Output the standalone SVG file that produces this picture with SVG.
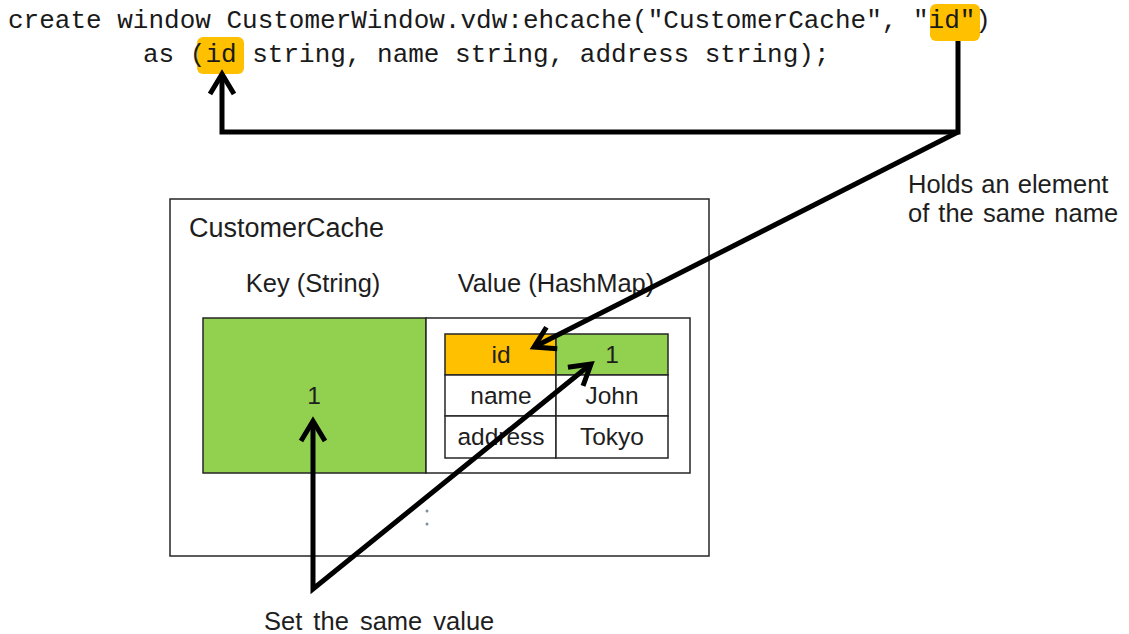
<svg xmlns="http://www.w3.org/2000/svg" width="1129" height="634" viewBox="0 0 1129 634">
  <style>
    .code { font-family: "Liberation Mono", "Courier New", monospace; font-size: 26px; fill: #1a1a1a; }
    .lbl { font-family: "Liberation Sans", Arial, sans-serif; fill: #1e1e1e; }
    .mid { text-anchor: middle; }
    .box { stroke: #262626; stroke-width: 1.5; }
    .hl { fill: #FFC000; }
    .green { fill: #92D050; }
    .white { fill: #ffffff; }
    .wire { fill: none; stroke: #000; stroke-width: 5; stroke-linejoin: miter; }
  </style>
  <defs>
    <marker id="chev" markerUnits="userSpaceOnUse" viewBox="-26 -16 32 32" markerWidth="32" markerHeight="32" refX="0" refY="0" orient="auto-start-reverse">
      <path d="M-20,-12 L0,0 L-20,12" fill="none" stroke="#000" stroke-width="5" stroke-linejoin="miter"/>
    </marker>
  </defs>

  <rect width="1129" height="634" fill="#ffffff"/>

  <!-- query statement with highlighted key column -->
  <g id="statement">
    <rect class="hl" x="930" y="4" width="50" height="37" rx="6"/>
    <rect class="hl" x="197" y="37" width="47" height="37" rx="6"/>
    <text class="code" x="8" y="28">create window CustomerWindow.vdw:ehcache("CustomerCache", "id")</text>
    <text class="code" x="143" y="62">as (id string, name string, address string);</text>
  </g>

  <!-- cache container -->
  <g id="customer-cache">
    <rect class="box white" x="170" y="199" width="539" height="357"/>
    <text class="lbl" x="189" y="237" font-size="27">CustomerCache</text>
    <text class="lbl mid" x="313" y="292" font-size="25.5">Key (String)</text>
    <text class="lbl mid" x="556" y="292" font-size="25.5">Value (HashMap)</text>
    <circle cx="427" cy="511" r="1.5" fill="#7f8fa0"/>
    <circle cx="427" cy="524" r="1.5" fill="#7f8fa0"/>
  </g>

  <g id="key-cell">
    <rect class="box green" x="203" y="318" width="223" height="155"/>
    <text class="lbl mid" x="314" y="404" font-size="24.5">1</text>
  </g>

  <g id="value-cell">
    <rect class="box white" x="426" y="318" width="264" height="155"/>
  </g>

  <!-- HashMap entries -->
  <g id="hashmap-table" font-size="24.5">
    <rect class="box hl" x="445" y="334" width="111" height="41"/>
    <rect class="box green" x="556" y="334" width="112" height="41"/>
    <rect class="box white" x="445" y="375" width="111" height="41"/>
    <rect class="box white" x="556" y="375" width="112" height="41"/>
    <rect class="box white" x="445" y="416" width="111" height="42"/>
    <rect class="box white" x="556" y="416" width="112" height="42"/>
    <text class="lbl mid" x="501" y="363">id</text>
    <text class="lbl mid" x="612" y="363">1</text>
    <text class="lbl mid" x="501" y="404">name</text>
    <text class="lbl mid" x="612" y="404">John</text>
    <text class="lbl mid" x="501" y="445">address</text>
    <text class="lbl mid" x="612" y="445">Tokyo</text>
  </g>

  <!-- annotations -->
  <g id="note-name">
    <text class="lbl" x="908" y="193" font-size="25.5" word-spacing="1">Holds an element</text>
    <text class="lbl" x="908" y="222" font-size="25.5" word-spacing="2">of the same name</text>
  </g>
  <g id="note-value">
    <text class="lbl" x="264" y="630" font-size="25.5" word-spacing="4">Set the same value</text>
  </g>

  <!-- connectors -->
  <g id="connectors">
    <path class="wire" d="M958,41 V132 H222 V74" marker-end="url(#chev)"/>
    <path class="wire" d="M958,132 L534,347" marker-end="url(#chev)"/>
    <path class="wire" d="M591,364 L313,589 L313,421" marker-start="url(#chev)" marker-end="url(#chev)"/>
  </g>
</svg>
